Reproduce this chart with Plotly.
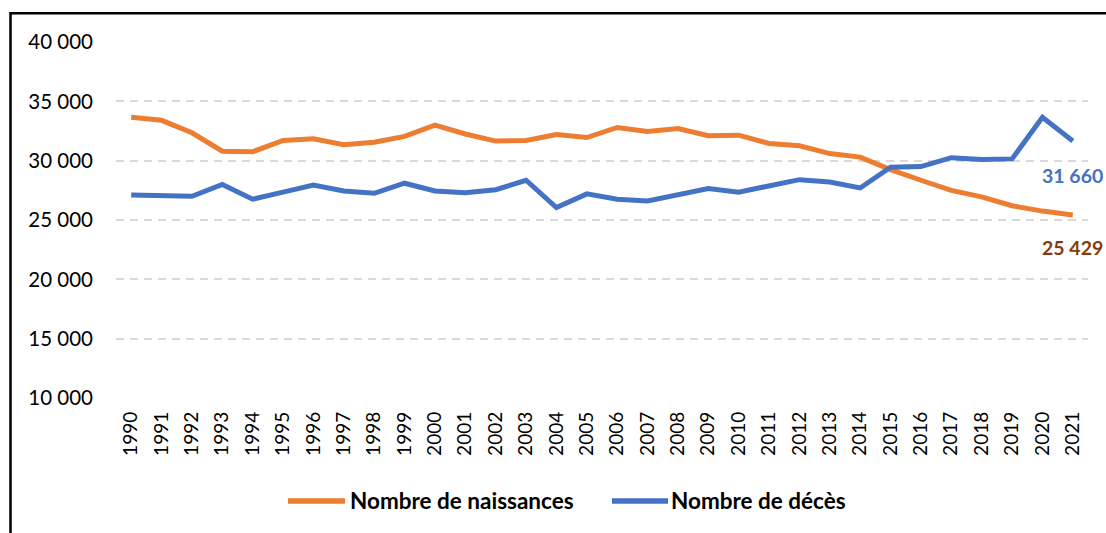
import plotly.graph_objects as go

years = list(range(1990, 2022))
naissances = [33650, 33400, 32350, 30800, 30750, 31700, 31850, 31350, 31550, 32050,
              33000, 32250, 31650, 31700, 32200, 31950, 32800, 32450, 32700, 32100,
              32150, 31450, 31250, 30600, 30300, 29250, 28350, 27500, 26950, 26200,
              25750, 25429]
deces = [27100, 27050, 27000, 28000, 26750, 27350, 27950, 27450, 27250, 28100,
         27450, 27300, 27550, 28350, 26050, 27200, 26750, 26600, 27150, 27650,
         27350, 27900, 28400, 28200, 27700, 29450, 29500, 30250, 30100, 30150,
         33650, 31660]
ytickvals = [10000, 15000, 20000, 25000, 30000, 35000, 40000]
yticktext = ["10 000", "15 000", "20 000", "25 000", "30 000", "35 000", "40 000"]
series_names = ["Nombre de naissances", "Nombre de décès"]
colors = ["#ED7D31", "#4472C4"]
label_colors = ["#843C0C", "#4472C4"]

FONT = "Lato"
W, H = 1106, 533
L, R, T, B = 116, 18, 42, 135
pw = W - L - R
ph = H - T - B


def px(x):
    return (x - L) / pw


def py(y):
    return (H - B - y) / ph


fig = go.Figure()
for name, vals, col in zip(series_names, [naissances, deces], colors):
    fig.add_trace(go.Scatter(x=years, y=vals, mode="lines", name=name,
                             line=dict(color=col, width=5), showlegend=False))


def fmt(v):
    return f"{v:,}".replace(",", " ")


# end labels
fig.add_annotation(x=years[-1], y=deces[-1], text=f"<b>{fmt(deces[-1])}</b>",
                   showarrow=False, yshift=-35, xanchor="center", yanchor="middle",
                   font=dict(family=FONT, size=19.5, color=label_colors[1]))
fig.add_annotation(x=years[-1], y=naissances[-1], text=f"<b>{fmt(naissances[-1])}</b>",
                   showarrow=False, yshift=-33, xanchor="center", yanchor="middle",
                   font=dict(family=FONT, size=19.5, color=label_colors[0]))

# legend (drawn manually for the longer line samples)
leg = [(288, 345, 348), (612, 668, 669)]
leg_y = 501
for (x0, x1, tx), name, col in zip(leg, series_names, colors):
    fig.add_shape(type="line", xref="paper", yref="paper",
                  x0=px(x0), x1=px(x1), y0=py(leg_y), y1=py(leg_y),
                  line=dict(color=col, width=5.5))
    fig.add_annotation(xref="paper", yref="paper", x=px(tx), y=py(leg_y - 1),
                       text=f"<b>{name}</b>", showarrow=False,
                       xanchor="left", yanchor="middle",
                       font=dict(family=FONT, size=22.5, color="black"))

# outer frame (partially cropped like reference)
fig.add_shape(type="rect", xref="paper", yref="paper",
              x0=px(10.5), x1=px(1140), y0=py(570), y1=py(13.3),
              line=dict(color="black", width=2.5), layer="above")

fig.update_layout(
    width=W, height=H,
    margin=dict(l=L, r=R, t=T, b=B),
    paper_bgcolor="white", plot_bgcolor="white",
    font=dict(family=FONT, color="black"),
    showlegend=False,
    xaxis=dict(range=[1989.5, 2021.5], tickmode="array", tickvals=years,
               ticktext=[str(y) for y in years], tickangle=-90,
               tickfont=dict(family=FONT, size=19, color="black"),
               showgrid=False, zeroline=False, showline=False, ticks="",
               ticklabelstandoff=9, fixedrange=True),
    yaxis=dict(range=[10000, 40000], tickmode="array", tickvals=ytickvals,
               ticktext=yticktext,
               tickfont=dict(family=FONT, size=20.5, color="black"),
               showgrid=True, gridcolor="#D9D9D9", gridwidth=1.5, griddash="8px,6px",
               zeroline=False, showline=False, ticks="",
               ticklabelstandoff=22, fixedrange=True),
)

fig.write_html(
    "out.html",
    config={"displayModeBar": False},
    post_script="document.body.style.margin='0';document.body.style.overflow='hidden';",
)
